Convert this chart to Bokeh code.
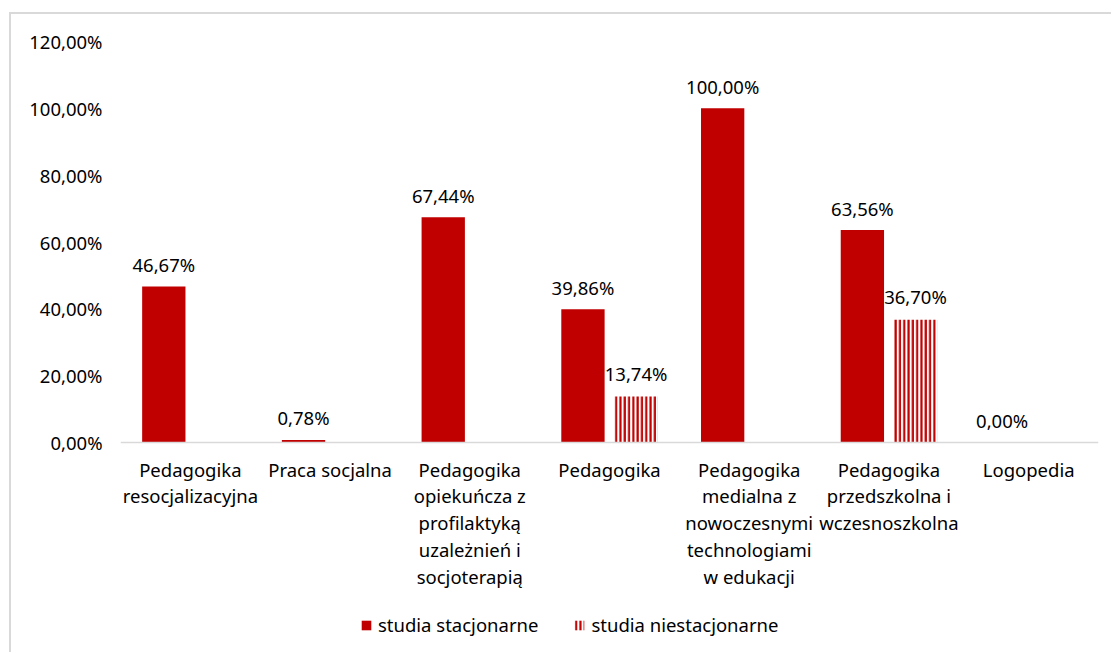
from bokeh.plotting import figure
from bokeh.models import FactorRange, Range1d, FixedTicker, Legend, LegendItem, ColumnDataSource, Span
from bokeh.transform import dodge
from bokeh.embed import file_html
from bokeh.resources import INLINE
from bokeh.core.properties import value

categories = [
    "Pedagogika\nresocjalizacyjna",
    "Praca socjalna",
    "Pedagogika\nopiekuńcza z\nprofilaktyką\nuzależnień i\nsocjoterapią",
    "Pedagogika",
    "Pedagogika\nmedialna z\nnowoczesnymi\ntechnologiami\nw edukacji",
    "Pedagogika\nprzedszkolna i\nwczesnoszkolna",
    "Logopedia",
]
stacjonarne = [46.67, 0.78, 67.44, 39.86, 100.00, 63.56, 0.00]
niestacjonarne = [None, None, None, 13.74, None, 36.70, None]
series_names = ["studia stacjonarne", "studia niestacjonarne"]
y_ticks = [0, 20, 40, 60, 80, 100, 120]

RED = "#C00000"
FONT = "Noto Sans"
FS = "18.5px"

def fmt(v):
    return f"{v:.2f}".replace(".", ",") + "%"

src1 = ColumnDataSource(dict(cat=categories, val=stacjonarne, label=[fmt(v) for v in stacjonarne]))
c2 = [c for c, v in zip(categories, niestacjonarne) if v is not None]
v2 = [v for v in niestacjonarne if v is not None]
src2 = ColumnDataSource(dict(cat=c2, val=v2, label=[fmt(v) for v in v2]))
src_cat = ColumnDataSource(dict(cat=categories, zero=[0] * len(categories)))

p = figure(
    x_range=FactorRange(*categories, range_padding=0),
    y_range=Range1d(-63.44, 120),
    width=1102, height=640,
    output_backend="svg", toolbar_location=None,
    x_axis_location=None,
    min_border_left=109, min_border_right=15, min_border_top=27, min_border_bottom=0,
)
p.styles = {"border-left": "2px solid #d9d9d9", "border-top": "2px solid #d9d9d9",
            "margin-left": "9px", "margin-top": "12px"}
p.outline_line_color = None
p.xgrid.grid_line_color = None
p.ygrid.grid_line_color = None

# category axis baseline
p.add_layout(Span(location=0, dimension="width", line_color="#d9d9d9", line_width=1.5))

off = 0.19
bw = 0.31
r1 = p.vbar(x=dodge("cat", -off, range=p.x_range), top="val", width=bw, source=src1,
            fill_color=RED, line_color=None)
r2 = p.vbar(x=dodge("cat", off, range=p.x_range), top="val", width=bw, source=src2,
            fill_color="white", line_color=None, hatch_pattern="vertical_line",
            hatch_color=RED, hatch_scale=4.3, hatch_weight=2.2)

p.text(x=dodge("cat", -off, range=p.x_range), y="val", text="label", source=src1,
       text_align="center", text_baseline="middle", y_offset=-22,
       text_font=value(FONT), text_font_size=FS, text_color="#000000")
p.text(x=dodge("cat", off, range=p.x_range), y="val", text="label", source=src2,
       text_align="center", text_baseline="middle", y_offset=-23,
       text_font=value(FONT), text_font_size=FS, text_color="#000000")

# category labels (multi-line) under the baseline
p.text(x="cat", y="zero", text="cat", source=src_cat,
       text_align="center", text_baseline="top", y_offset=14,
       text_font=value(FONT), text_font_size=FS, text_color="#000000",
       text_line_height=1.075)

p.yaxis.ticker = FixedTicker(ticks=y_ticks)
p.yaxis.major_label_overrides = {t: fmt(t) for t in y_ticks}
p.yaxis.axis_line_color = None
p.yaxis.major_tick_line_color = None
p.yaxis.minor_tick_line_color = None
p.yaxis.major_tick_out = 0
p.yaxis.major_tick_in = 0
p.yaxis.major_label_standoff = 18
p.yaxis.major_label_text_font = FONT
p.yaxis.major_label_text_font_size = FS
p.yaxis.major_label_text_color = "#000000"

legend = Legend(items=[LegendItem(label=series_names[0], renderers=[r1]),
                       LegendItem(label=series_names[1], renderers=[r2])],
                orientation="horizontal", location=(240, 17),
                border_line_color=None, background_fill_alpha=0,
                label_text_font=FONT, label_text_font_size=FS, label_text_color="#000000",
                glyph_width=12, glyph_height=12, spacing=35, margin=0, padding=6,
                label_standoff=6)
p.add_layout(legend, "center")

open("out.html", "w").write(file_html(p, INLINE))
